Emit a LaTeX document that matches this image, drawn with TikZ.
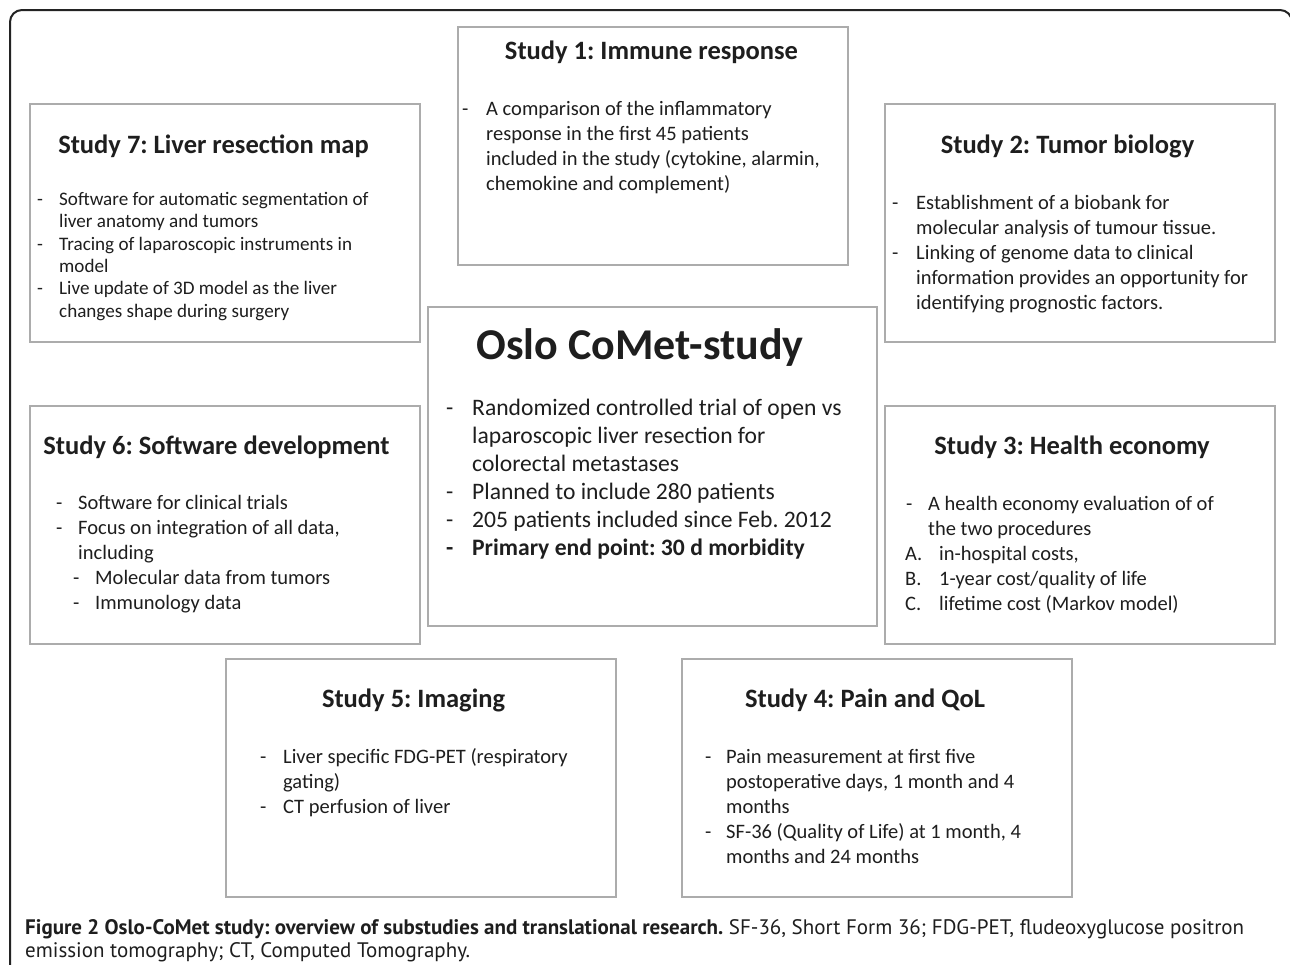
\documentclass[tikz,border=0pt]{standalone}
\usepackage{fontspec}
\setmainfont{Carlito}
\newfontfamily\capfont{PT Sans}
\usepackage{array}
\frenchspacing
\definecolor{boxgray}{RGB}{172,172,172}
\definecolor{framecol}{RGB}{35,35,35}
\definecolor{txtcol}{RGB}{30,30,30}
\newcommand{\bfs}{\fontsize{20.5}{25}\selectfont}
\newcommand{\sfs}{\fontsize{19.1}{22.3}\selectfont}
\newcommand{\cfs}{\fontsize{23.6}{28}\selectfont}
\begin{document}
\begin{tikzpicture}[x=1pt,y=-1pt,
  box/.style={draw=boxgray, line width=1.4pt, anchor=north west, inner sep=0pt, outer sep=0pt},
  ttl/.style={anchor=base, inner sep=0pt, text=txtcol, font=\fontsize{26.5}{32}\selectfont\bfseries},
  bodytxt/.style={anchor=base west, inner sep=0pt, text=txtcol, align=left},
  captxt/.style={anchor=base west, inner sep=0pt, text=txtcol, align=left, font=\capfont\fontsize{21}{23}\selectfont}]
\useasboundingbox (0,0) rectangle (1290,964);
\fill[white] (0,0) rectangle (1290,964);
\draw[framecol, line width=2pt, rounded corners=12pt] (10,1010) -- (10,10) -- (1292,10) -- (1292,1010);

% boxes
\node[box, minimum width=390pt, minimum height=238pt] (s1) at (458,27) {};
\node[box, minimum width=390pt, minimum height=238pt] (s7) at (30,104) {};
\node[box, minimum width=390pt, minimum height=238pt] (s2) at (885,104) {};
\node[box, minimum width=449pt, minimum height=319pt] (cm) at (428,307) {};
\node[box, minimum width=390pt, minimum height=238pt] (s6) at (30,406) {};
\node[box, minimum width=390pt, minimum height=238pt] (s3) at (885,406) {};
\node[box, minimum width=390pt, minimum height=238pt] (s5) at (226,659) {};
\node[box, minimum width=390pt, minimum height=238pt] (s4) at (682,659) {};

% titles
\node[ttl] (s1t) at (651.5,59) {Study 1: Immune response};
\node[ttl] (s7t) at (213.5,153) {Study 7: Liver resection map};
\node[ttl] (s2t) at (1067.5,153) {Study 2: Tumor biology};
\node[ttl, font=\fontsize{44}{50}\selectfont\bfseries] (cmt) at (640,359) {Oslo CoMet-study};
\node[ttl] (s6t) at (216.5,454) {Study 6: Software development};
\node[ttl] (s3t) at (1072,454) {Study 3: Health economy};
\node[ttl] (s5t) at (413.5,707) {Study 5: Imaging};
\node[ttl] (s4t) at (865,707) {Study 4: Pain and QoL};

% bodies
\node[bodytxt] (s1b) at (462,115) {\bfs\begin{tabular}[t]{@{}p{24pt}@{}l@{}}
- & A comparison of the inflammatory\\
  & response in the first 45 patients\\
  & included in the study (cytokine, alarmin,\\
  & chemokine and complement)
\end{tabular}};

\node[bodytxt] (s7b) at (37,205.5) {\sfs\begin{tabular}[t]{@{}p{22pt}@{}l@{}}
- & Software for automatic segmentation of\\
  & liver anatomy and tumors\\
- & Tracing of laparoscopic instruments in\\
  & model\\
- & Live update of 3D model as the liver\\
  & changes shape during surgery
\end{tabular}};

\node[bodytxt] (s2b) at (892,209) {\bfs\begin{tabular}[t]{@{}p{24pt}@{}l@{}}
- & Establishment of a biobank for\\
  & molecular analysis of tumour tissue.\\
- & Linking of genome data to clinical\\
  & information provides an opportunity for\\
  & identifying prognostic factors.
\end{tabular}};

\node[bodytxt] (cmb) at (446,415) {\cfs\begin{tabular}[t]{@{}p{26pt}@{}l@{}}
- & Randomized controlled trial of open vs\\
  & laparoscopic liver resection for\\
  & colorectal metastases\\
- & Planned to include 280 patients\\
- & 205 patients included since Feb. 2012\\
\textbf{-} & \textbf{Primary end point: 30 d morbidity}
\end{tabular}};

\node[bodytxt] (s6b) at (56,509) {\bfs\begin{tabular}[t]{@{}p{22pt}@{}l@{}}
- & Software for clinical trials\\
- & Focus on integration of all data,\\
  & including\\
\multicolumn{2}{@{}l@{}}{\hspace{17pt}\makebox[22pt][l]{-}Molecular data from tumors}\\
\multicolumn{2}{@{}l@{}}{\hspace{17pt}\makebox[22pt][l]{-}Immunology data}
\end{tabular}};

\node[bodytxt] (s3b) at (905,510) {\bfs\begin{tabular}[t]{@{}p{23pt}@{}l@{}}
\hspace{1pt}- & A health economy evaluation of of\\
  & the two procedures\\
\multicolumn{2}{@{}l@{}}{\makebox[34pt][l]{A.}in-hospital costs,}\\
\multicolumn{2}{@{}l@{}}{\makebox[34pt][l]{B.}1-year cost/quality of life}\\
\multicolumn{2}{@{}l@{}}{\makebox[34pt][l]{C.}lifetime cost (Markov model)}
\end{tabular}};

\node[bodytxt] (s5b) at (260,763) {\bfs\begin{tabular}[t]{@{}p{23pt}@{}l@{}}
- & Liver specific FDG-PET (respiratory\\
  & gating)\\
- & CT perfusion of liver
\end{tabular}};

\node[bodytxt] (s4b) at (705,763) {\bfs\begin{tabular}[t]{@{}p{21pt}@{}l@{}}
- & Pain measurement at first five\\
  & postoperative days, 1 month and 4\\
  & months\\
- & SF-36 (Quality of Life) at 1 month, 4\\
  & months and 24 months
\end{tabular}};

% caption (base anchor = last line baseline)
\node[captxt] (cap) at (25,957) {\textbf{Figure 2 Oslo-CoMet study: overview of substudies and translational research.} SF-36, Short Form 36; FDG-PET, fludeoxyglucose positron\\
emission tomography; CT, Computed Tomography.};
\end{tikzpicture}
\end{document}
